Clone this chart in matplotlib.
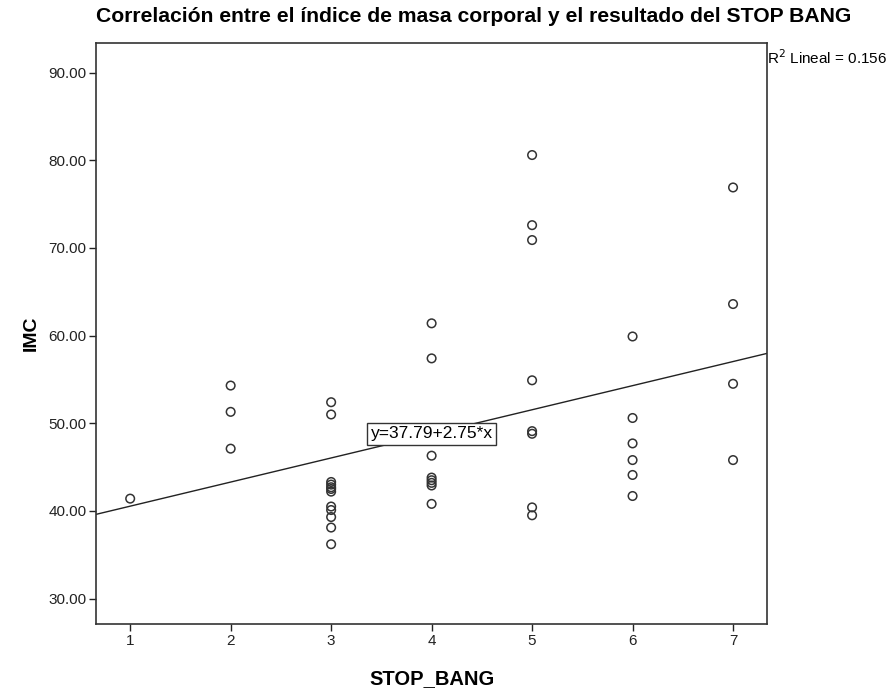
import numpy as np
import matplotlib.pyplot as plt

plt.rcParams['font.family'] = ['Liberation Sans', 'DejaVu Sans']

# Datos
stop_bang = [1,
             2, 2, 2,
             3, 3, 3, 3, 3, 3, 3, 3, 3, 3, 3, 3,
             4, 4, 4, 4, 4, 4, 4, 4,
             5, 5, 5, 5, 5, 5, 5, 5,
             6, 6, 6, 6, 6, 6,
             7, 7, 7, 7]
imc = [41.4,
       54.3, 51.3, 47.1,
       52.4, 51.0, 43.3, 43.0, 42.7, 42.5, 42.2, 40.5, 40.1, 39.3, 38.1, 36.2,
       61.4, 57.4, 46.3, 43.8, 43.5, 43.2, 42.9, 40.8,
       80.6, 72.6, 70.9, 54.9, 49.1, 48.8, 40.4, 39.5,
       59.9, 50.6, 47.7, 45.8, 44.1, 41.7,
       76.9, 63.6, 54.5, 45.8]

intercepto = 37.79
pendiente = 2.75
r2 = 0.156

x_ticks = [1, 2, 3, 4, 5, 6, 7]
y_ticks = [30, 40, 50, 60, 70, 80, 90]

fig = plt.figure(figsize=(8.89, 6.91), dpi=100)
ax = fig.add_axes([0.108, 0.097, 0.755, 0.841])

ax.scatter(stop_bang, imc, s=38, facecolors='none', edgecolors='#333333',
           linewidths=1.1, zorder=3)

xmin, xmax = 0.66, 7.34
xs = np.array([xmin, xmax])
ax.plot(xs, intercepto + pendiente * xs, color='#222222', lw=1.0, zorder=2)

ax.set_xlim(xmin, xmax)
ax.set_ylim(27.1, 93.4)
ax.set_xticks(x_ticks)
ax.set_yticks(y_ticks)
ax.set_yticklabels([f'{v:.2f}' for v in y_ticks])
ax.tick_params(direction='out', length=5, width=1, labelsize=11, colors='#222222', pad=2)

for s in ax.spines.values():
    s.set_color('#333333')
    s.set_linewidth(1.2)

ax.set_xlabel('STOP_BANG', fontsize=14.5, fontweight='bold')
ax.set_ylabel('IMC', fontsize=14, fontweight='bold')
ax.xaxis.set_label_coords(0.5, -0.078)
ax.yaxis.set_label_coords(-0.084, 0.5)

fig.text(474 / 889, 1 - 16 / 691,
         'Correlación entre el índice de masa corporal y el resultado del STOP BANG',
         ha='center', va='center', fontsize=15.2, fontweight='bold')

ax.text(4.0, intercepto + pendiente * 4.0, f'y={intercepto:.2f}+{pendiente:.2f}*x',
        ha='center', va='center', fontsize=12.5, zorder=4,
        bbox=dict(boxstyle='square,pad=0.2', facecolor='white', edgecolor='#333333', lw=1))

ax.text(1.0, 0.975, f'R$^2$ Lineal = {r2:.3f}', transform=ax.transAxes,
        ha='left', va='center', fontsize=11)

fig.savefig('out.png', dpi=100)
